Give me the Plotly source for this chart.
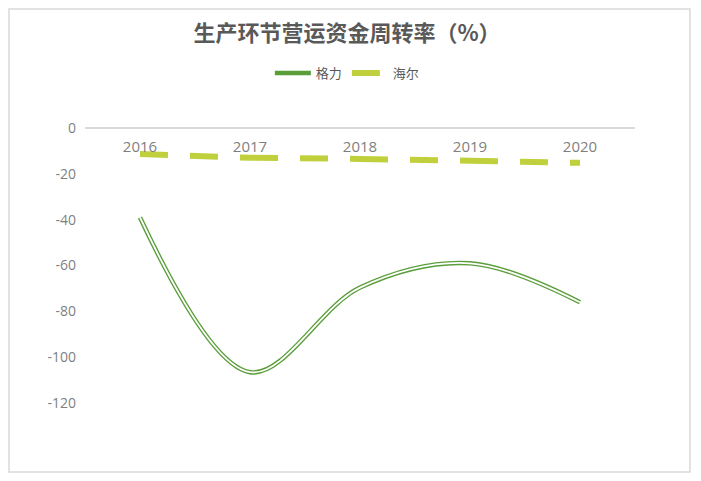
import plotly.graph_objects as go

# data
years = ['2016', '2017', '2018', '2019', '2020']
gree = [-39, -106.5, -69.6, -59, -76]
haier = [-11.3, -13, -13.5, -14.3, -15.2]
y_ticks = [0, -20, -40, -60, -80, -100, -120]
y_labels = ['0', '-20', '-40', '-60', '-80', '-100', '-120']

green = '#5A9E3A'
lime = '#C0D03C'
font_family = 'Open Sans, Noto Sans CJK SC, sans-serif'

fig = go.Figure()

# 格力: double line drawn as a thick green line with a thin white core
fig.add_trace(go.Scatter(x=years, y=gree, name='格力', mode='lines',
                         line=dict(color=green, width=4.5, shape='spline', smoothing=1.0),
                         legendrank=1))
fig.add_trace(go.Scatter(x=years, y=gree, name='格力', mode='lines', showlegend=False,
                         line=dict(color='white', width=1.8, shape='spline', smoothing=1.0),
                         hoverinfo='skip'))

# 海尔: dash pattern restarts at every point, like the original, so one trace per segment
for i in range(len(years) - 1):
    fig.add_trace(go.Scatter(x=years[i:i + 2], y=haier[i:i + 2], name='海尔', mode='lines',
                             legendgroup='haier', showlegend=(i == 0),
                             line=dict(color=lime, width=6, dash='28px,22px'),
                             legendrank=2))

# page is shown with an 8px body offset, so margins are shifted to compensate
fig.update_layout(
    width=701, height=481,
    margin=dict(l=77, r=74, t=120, b=40),
    paper_bgcolor='white', plot_bgcolor='white',
    font=dict(family=font_family, color='#7F7F7F', size=14),
    title=dict(text='<b>生产环节营运资金周转率（%）</b>', x=0.4836, xanchor='center',
               y=0.948, yanchor='middle',
               font=dict(family='Noto Sans CJK SC, sans-serif', size=22, color='#595959')),
    legend=dict(orientation='h', x=0.477, xanchor='center', y=1.171, yanchor='middle',
                font=dict(family='Noto Sans CJK SC, sans-serif', size=13, color='#595959'),
                bgcolor='rgba(0,0,0,0)', itemwidth=36),
    showlegend=True,
)

# category axis sits on the y=0 line (top of plot) with labels below it
fig.update_xaxes(type='category', side='bottom', anchor='free', position=1.0,
                 showline=True, linecolor='#D9D9D9', linewidth=1.5,
                 showgrid=False, ticks='', range=[-0.5, 4.5], ticklabelstandoff=5,
                 tickfont=dict(size=15, color='#7F7F7F'))
fig.update_yaxes(range=[-140, 0], tickvals=y_ticks, ticktext=y_labels,
                 showgrid=False, zeroline=False, showline=False, ticks='',
                 ticklabelstandoff=8, tickfont=dict(size=14, color='#7F7F7F'))

# outer frame of the chart area
fig.add_shape(type='rect', xref='paper', yref='paper',
              x0=-0.1382, x1=1.1, y0=-0.0717, y1=1.3707,
              line=dict(color='#D9D9D9', width=1.5), fillcolor='rgba(0,0,0,0)', layer='below')

fig.write_html('out.html')
